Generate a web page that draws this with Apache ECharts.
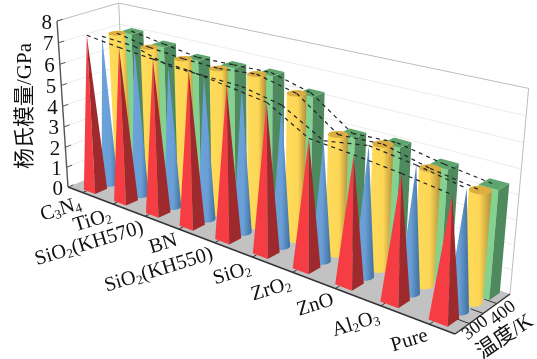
<!DOCTYPE html>
<html>
<head>
<meta charset="utf-8">
<style>html,body{margin:0;background:#fff}#chart{width:537px;height:359px}</style>
<script src="https://cdn.jsdelivr.net/npm/echarts@6/dist/echarts.min.js"></script>
</head>
<body>
<div id="chart"></div>
<script>
// 杨氏模量 3D 柱状图
const categories = ['C3N4', 'TiO2', 'SiO2(KH570)', 'BN', 'SiO2(KH550)', 'SiO2', 'ZrO2', 'ZnO', 'Al2O3', 'Pure']
const redValues = [7.4, 7.2, 7.05, 6.95, 6.7, 6.45, 5.45, 5.3, 5.1, 4.85]
const blueValues = [7.15, 7.05, 6.55, 6.5, 6.45, 6.1, 5.1, 5.4, 5.15, 4.8]
const yellowValues = [7.1, 6.8, 6.65, 6.6, 6.75, 6.35, 5.1, 5.2, 4.75, 4.45]
const greenValues = [7.0, 6.75, 6.5, 6.55, 6.6, 6.15, 4.9, 5.0, 4.65, 4.4]
const valueTicks = [0, 1, 2, 3, 4, 5, 6, 7, 8]
const depthLabels = ['300', '', '400']

const FONT = '"Liberation Serif","Noto Sans CJK SC",serif'
const W = 537
const H = 359
const YMAX = 8

// 透视投影: 地面四角 + 竖直灭点
const A = [68, 187], B = [455, 334], C = [510, 294], D = [126, 163]
const VP = [259, 3067]
const K = -0.0545
const dx1 = B[0] - C[0], dx2 = D[0] - C[0], sx = A[0] - B[0] + C[0] - D[0]
const dy1 = B[1] - C[1], dy2 = D[1] - C[1], sy = A[1] - B[1] + C[1] - D[1]
const den = dx1 * dy2 - dx2 * dy1
const pg = (sx * dy2 - dx2 * sy) / den
const ph = (dx1 * sy - sx * dy1) / den

function project(u, w, t) {
    const x = (B[0] - A[0] + pg * B[0]) * u + (D[0] - A[0] + ph * D[0]) * w + A[0] + K * t * VP[0]
    const y = (B[1] - A[1] + pg * B[1]) * u + (D[1] - A[1] + ph * D[1]) * w + A[1] + K * t * VP[1]
    const z = pg * u + ph * w + 1 + K * t
    return [x / z, y / z]
}

// 经由隐藏的直角坐标轴取比例
function scaled(api, i, v) {
    const p = api.coord([i, v])
    return { u: p[0] / W, t: (H - p[1]) / H }
}

function hull(points) {
    const pts = points.slice().sort((a, b) => a[0] - b[0] || a[1] - b[1])
    const cross = (o, a, b) => (a[0] - o[0]) * (b[1] - o[1]) - (a[1] - o[1]) * (b[0] - o[0])
    const lower = [], upper = []
    pts.forEach(p => {
        while (lower.length > 1 && cross(lower[lower.length - 2], lower[lower.length - 1], p) <= 0) lower.pop()
        lower.push(p)
    })
    pts.slice().reverse().forEach(p => {
        while (upper.length > 1 && cross(upper[upper.length - 2], upper[upper.length - 1], p) <= 0) upper.pop()
        upper.push(p)
    })
    return lower.slice(0, -1).concat(upper.slice(0, -1))
}

function poly(points, fill, z2) {
    return { type: 'polygon', shape: { points }, style: { fill, stroke: null }, z2, silent: true }
}

function line(p, q, stroke, width, z2, dash) {
    return {
        type: 'line',
        shape: { x1: p[0], y1: p[1], x2: q[0], y2: q[1] },
        style: { stroke, lineWidth: width, lineDash: dash || null },
        z2,
        silent: true,
    }
}

function text(str, x, y, deg, size, align, z2, rich) {
    return {
        type: 'text',
        x,
        y,
        rotation: deg * Math.PI / 180,
        z2,
        silent: true,
        style: { text: str, fill: '#111', fontFamily: FONT, fontSize: size, align, verticalAlign: 'middle', rich },
    }
}

function ring(u, w, t) {
    const out = []
    for (let n = 0; n < 28; n++) {
        const a = n / 28 * Math.PI * 2
        out.push(project(u + HALF_U * Math.cos(a), w + HALF_W * Math.sin(a), t))
    }
    return out
}

function vgrad(stops) {
    return new echarts.graphic.LinearGradient(0, 0, 1, 0, stops.map(c => ({ offset: c[0], color: c[1] })))
}

const HALF_U = 0.019
const HALF_W = 0.1
const SHIFT_U = [0.009, 0.011, 0.013, 0.015]
const DEPTHS = [0.17, 0.4, 0.63, 0.86]

const shapes = {
    pyramid(u, w, t, z2) {
        const apex = project(u, w, t)
        const fl = project(u - HALF_U, w - HALF_W, 0)
        const fr = project(u + HALF_U, w - HALF_W, 0)
        const br = project(u + HALF_U, w + HALF_W, 0)
        return [poly([fl, fr, apex], '#f53d43', z2), poly([fr, br, apex], '#9e2a2d', z2)]
    },
    cone(u, w, t, z2) {
        const fill = vgrad([[0, '#6aa3db'], [0.55, '#6a9fd6'], [1, '#3f6f9f']])
        return [poly(hull(ring(u, w, 0).concat([project(u, w, t)])), fill, z2)]
    },
    cylinder(u, w, t, z2) {
        const fill = vgrad([[0, '#ffdc5c'], [0.6, '#fdd655'], [1, '#b08e3a']])
        const top = ring(u, w, t)
        return [
            poly(hull(ring(u, w, 0).concat(top)), fill, z2),
            poly(top, '#dcae42', z2),
        ]
    },
    box(u, w, t, z2) {
        const f = (su, sw, h) => project(u + su * HALF_U, w + sw * HALF_W, h)
        return [
            poly([f(-1, -1, 0), f(1, -1, 0), f(1, -1, t), f(-1, -1, t)], '#85d28f', z2),
            poly([f(1, -1, 0), f(1, 1, 0), f(1, 1, t), f(1, -1, t)], '#4f8a5e', z2),
            poly([f(-1, -1, t), f(1, -1, t), f(1, 1, t), f(-1, 1, t)], '#5ea56e', z2),
        ]
    },
}

function barSeries(name, values, depthIndex, shape) {
    return {
        type: 'custom',
        name,
        data: values.map((v, i) => [i, v]),
        renderItem(params, api) {
            const i = api.value(0)
            const s = scaled(api, i, api.value(1))
            const u = s.u + SHIFT_U[depthIndex]
            const w = DEPTHS[depthIndex]
            const z2 = 10 + i * 10 + (3 - depthIndex)
            const children = shapes[shape](u, w, s.t, z2)
            if (i < values.length - 1) {
                const n = scaled(api, i + 1, api.value(1, params.dataIndex + 1))
                children.push(line(project(u, w, s.t), project(n.u + SHIFT_U[depthIndex], w, n.t), '#222', 1.2, 500, [4, 4]))
            }
            return { type: 'group', children }
        },
    }
}

// 地面, 墙, 网格线, 数值轴
const frameSeries = {
    type: 'custom',
    data: valueTicks.map(v => [0, v]),
    renderItem(params, api) {
        const v = api.value(1)
        const t = (H - api.coord([0, v])[1]) / H
        const children = []
        if (params.dataIndex === 0) {
            children.push(poly([project(0, 0, 0), project(1, 0, 0), project(1, 1, 0), project(0, 1, 0)], '#c2c2c2', 2))
            children.push(line(project(0, 1, 1), project(1, 1, 1), '#bdbdbd', 1, 3))
            children.push(line(project(0, 0, 1), project(0, 1, 1), '#bdbdbd', 1, 3))
            children.push(line(project(0, 1, 0), project(0, 1, 1), '#bdbdbd', 1, 3))
            children.push(line(project(1, 1, 0), project(1, 1, 1), '#bdbdbd', 1, 3))
            children.push(line(project(0, 0, 0), project(0, 0, 1), '#555', 1.4, 4))
            children.push(line(project(0, 0, 0), project(1, 0, 0), '#333', 1.4, 4))
            children.push(line(project(1, 0, 0), project(1, 1, 0), '#333', 1.4, 4))
            children.push(text('杨氏模量/GPa', 25, 106, 90, 21, 'center', 5))
            children.push(text('温度/K', 505, 337, 34, 21, 'center', 5))
        }
        if (v > 0 && v < YMAX) {
            children.push(line(project(0, 0, t), project(0, 1, t), '#ececec', 1, 1))
            children.push(line(project(0, 1, t), project(1, 1, t), '#ececec', 1, 1))
        }
        const p = project(0, 0, t)
        children.push(line(p, project(0, 0.09, t), '#555', 1, 4))
        children.push(text(String(v), p[0] - 5, p[1] + 2, 0, 21, 'right', 5))
        return { type: 'group', children }
    },
}

const subRich = {
    n: { fontFamily: FONT, fontSize: 20.5, fill: '#111' },
    s: { fontFamily: FONT, fontSize: 13, fill: '#111', padding: [9, 0, 0, 0], verticalAlign: 'bottom' },
}

const categorySeries = {
    type: 'custom',
    data: categories.map((c, i) => [i, 0]),
    renderItem(params, api) {
        const i = api.value(0)
        const u = scaled(api, i, 0).u
        const p = project(u, 0, 0)
        const label = categories[i].replace(/([A-Za-z(]*[A-Za-z])(\d)(?!\d)/g, '{n|$1}{s|$2}').replace(/\(KH\d+\)/, m => '{n|' + m + '}')
        const plain = /\{/.test(label) ? label : '{n|' + label + '}'
        return {
            type: 'group',
            children: [
                line(p, project(u, 0.07, 0), '#333', 1, 4),
                text(plain, p[0] - 2, p[1] + 11, 17, 20.5, 'right', 5, subRich),
            ],
        }
    },
}

const depthSeries = {
    type: 'custom',
    data: depthLabels.map(() => [0, 0]),
    renderItem(params, api) {
        const w = 0.25 + params.dataIndex * 0.25
        const p = project(1, w, 0)
        return {
            type: 'group',
            children: [
                line(p, project(0.975, w, 0), '#333', 1, 4),
                text(depthLabels[params.dataIndex], p[0] + 6, p[1] + 4.5 + params.dataIndex * 2.5, 38, 18.5, 'center', 5),
            ],
        }
    },
}

const chart = echarts.init(document.getElementById('chart'))
chart.setOption({
    animation: false,
    grid: { left: 0, right: 0, top: 0, bottom: 0 },
    xAxis: { type: 'category', data: categories, show: false },
    yAxis: { type: 'value', min: 0, max: YMAX, interval: 1, show: false },
    series: [
        frameSeries,
        categorySeries,
        depthSeries,
        barSeries('红', redValues, 0, 'pyramid'),
        barSeries('蓝', blueValues, 1, 'cone'),
        barSeries('黄', yellowValues, 2, 'cylinder'),
        barSeries('绿', greenValues, 3, 'box'),
    ],
})
window.addEventListener('resize', () => chart.resize())
</script>
</body>
</html>
